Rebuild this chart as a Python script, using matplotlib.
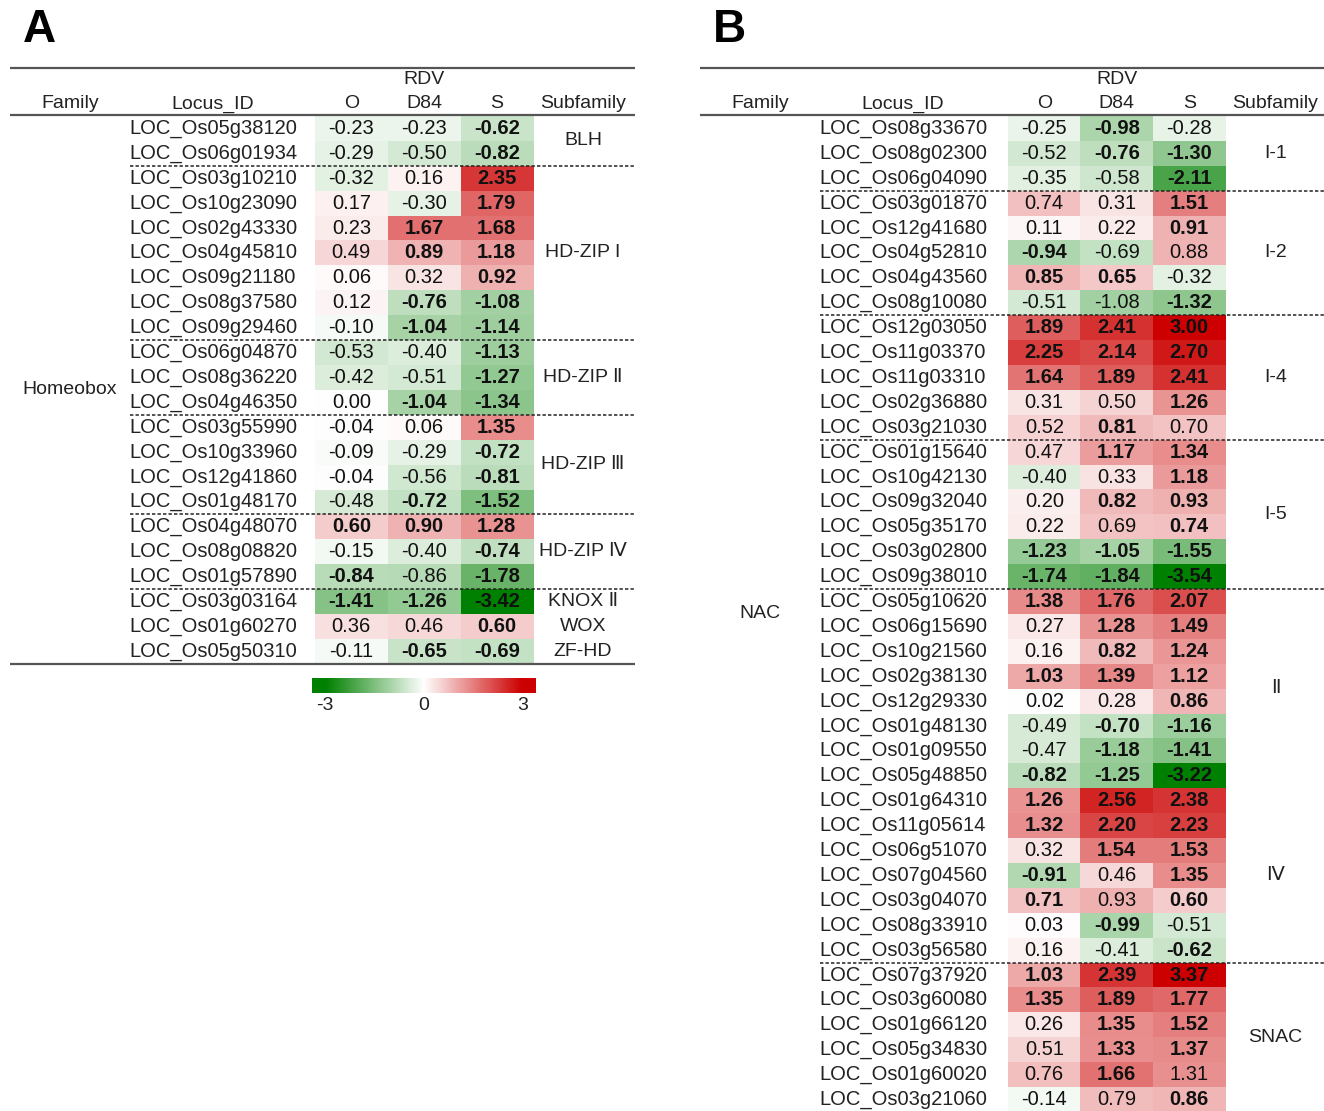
import numpy as np
import matplotlib
matplotlib.use("Agg")
import matplotlib.pyplot as plt
from matplotlib import font_manager
from matplotlib.colors import LinearSegmentedColormap, Normalize

# ---- data, panel A (Homeobox) ----
locus_a = ["LOC_Os05g38120", "LOC_Os06g01934", "LOC_Os03g10210", "LOC_Os10g23090",
           "LOC_Os02g43330", "LOC_Os04g45810", "LOC_Os09g21180", "LOC_Os08g37580",
           "LOC_Os09g29460", "LOC_Os06g04870", "LOC_Os08g36220", "LOC_Os04g46350",
           "LOC_Os03g55990", "LOC_Os10g33960", "LOC_Os12g41860", "LOC_Os01g48170",
           "LOC_Os04g48070", "LOC_Os08g08820", "LOC_Os01g57890", "LOC_Os03g03164",
           "LOC_Os01g60270", "LOC_Os05g50310"]
o_a = [-0.23, -0.29, -0.32, 0.17, 0.23, 0.49, 0.06, 0.12, -0.10, -0.53, -0.42, 0.00,
       -0.04, -0.09, -0.04, -0.48, 0.60, -0.15, -0.84, -1.41, 0.36, -0.11]
d84_a = [-0.23, -0.50, 0.16, -0.30, 1.67, 0.89, 0.32, -0.76, -1.04, -0.40, -0.51, -1.04,
         0.06, -0.29, -0.56, -0.72, 0.90, -0.40, -0.86, -1.26, 0.46, -0.65]
s_a = [-0.62, -0.82, 2.35, 1.79, 1.68, 1.18, 0.92, -1.08, -1.14, -1.13, -1.27, -1.34,
       1.35, -0.72, -0.81, -1.52, 1.28, -0.74, -1.78, -3.42, 0.60, -0.69]
# bold flags for (O, D84, S)
bold_a = ["001", "001", "001", "001", "011", "011", "001", "011", "011", "001", "001", "011",
          "001", "001", "001", "011", "111", "001", "101", "111", "001", "011"]
sub_a = ["BLH", "HD-ZIP I", "HD-ZIP Ⅱ", "HD-ZIP Ⅲ", "HD-ZIP Ⅳ", "KNOX Ⅱ", "WOX", "ZF-HD"]
sub_a_n = [2, 7, 3, 4, 3, 1, 1, 1]
sub_a_dash = [True, True, True, True, True, False, False, False]

# ---- data, panel B (NAC) ----
locus_b = ["LOC_Os08g33670", "LOC_Os08g02300", "LOC_Os06g04090",
           "LOC_Os03g01870", "LOC_Os12g41680", "LOC_Os04g52810", "LOC_Os04g43560", "LOC_Os08g10080",
           "LOC_Os12g03050", "LOC_Os11g03370", "LOC_Os11g03310", "LOC_Os02g36880", "LOC_Os03g21030",
           "LOC_Os01g15640", "LOC_Os10g42130", "LOC_Os09g32040", "LOC_Os05g35170", "LOC_Os03g02800",
           "LOC_Os09g38010",
           "LOC_Os05g10620", "LOC_Os06g15690", "LOC_Os10g21560", "LOC_Os02g38130", "LOC_Os12g29330",
           "LOC_Os01g48130", "LOC_Os01g09550", "LOC_Os05g48850",
           "LOC_Os01g64310", "LOC_Os11g05614", "LOC_Os06g51070", "LOC_Os07g04560", "LOC_Os03g04070",
           "LOC_Os08g33910", "LOC_Os03g56580",
           "LOC_Os07g37920", "LOC_Os03g60080", "LOC_Os01g66120", "LOC_Os05g34830", "LOC_Os01g60020",
           "LOC_Os03g21060"]
o_b = [-0.25, -0.52, -0.35,
       0.74, 0.11, -0.94, 0.85, -0.51,
       1.89, 2.25, 1.64, 0.31, 0.52,
       0.47, -0.40, 0.20, 0.22, -1.23, -1.74,
       1.38, 0.27, 0.16, 1.03, 0.02, -0.49, -0.47, -0.82,
       1.26, 1.32, 0.32, -0.91, 0.71, 0.03, 0.16,
       1.03, 1.35, 0.26, 0.51, 0.76, -0.14]
d84_b = [-0.98, -0.76, -0.58,
         0.31, 0.22, -0.69, 0.65, -1.08,
         2.41, 2.14, 1.89, 0.50, 0.81,
         1.17, 0.33, 0.82, 0.69, -1.05, -1.84,
         1.76, 1.28, 0.82, 1.39, 0.28, -0.70, -1.18, -1.25,
         2.56, 2.20, 1.54, 0.46, 0.93, -0.99, -0.41,
         2.39, 1.89, 1.35, 1.33, 1.66, 0.79]
s_b = [-0.28, -1.30, -2.11,
       1.51, 0.91, 0.88, -0.32, -1.32,
       3.00, 2.70, 2.41, 1.26, 0.70,
       1.34, 1.18, 0.93, 0.74, -1.55, -3.54,
       2.07, 1.49, 1.24, 1.12, 0.86, -1.16, -1.41, -3.22,
       2.38, 2.23, 1.53, 1.35, 0.60, -0.51, -0.62,
       3.37, 1.77, 1.52, 1.37, 1.31, 0.86]
bold_b = ["010", "011", "001",
          "001", "001", "100", "110", "001",
          "111", "111", "111", "001", "010",
          "011", "001", "011", "001", "111", "111",
          "111", "011", "011", "111", "001", "011", "011", "111",
          "111", "111", "011", "101", "101", "010", "001",
          "111", "111", "011", "011", "010", "001"]
sub_b = ["I-1", "I-2", "I-4", "I-5", "Ⅱ", "Ⅳ", "SNAC"]
sub_b_n = [3, 5, 5, 6, 8, 7, 6]
sub_b_dash = [True, True, True, True, False, True, False]

conditions = ["O", "D84", "S"]

names = {f.name for f in font_manager.fontManager.ttflist}
NARROW = "Liberation Sans Narrow" if "Liberation Sans Narrow" in names else "Liberation Sans"
FAM = [NARROW, "DejaVu Sans"]
plt.rcParams["font.family"] = FAM

cmap = LinearSegmentedColormap.from_list("gwr", ["#008000", "#ffffff", "#cc0000"])
norm = Normalize(vmin=-3, vmax=3)

W, H = 1324, 1111
fig = plt.figure(figsize=(W / 100, H / 100), dpi=100)
ax = fig.add_axes([0, 0, 1, 1])
ax.set_xlim(0, W)
ax.set_ylim(H, 0)
ax.axis("off")

RH = 24.9
Y0 = 116
LINE_C = "#555555"


def draw_panel(x0, family, locus, o, d84, s, bold, subs, sub_n, sub_dash,
               x_right, cell_x0, cell_w, bottom_line):
    n = len(locus)
    vals = np.array([o, d84, s]).T
    y_end = Y0 + n * RH
    ax.imshow(vals, cmap=cmap, norm=norm, aspect="auto", interpolation="nearest",
              extent=(cell_x0, cell_x0 + 3 * cell_w, y_end, Y0), zorder=1)

    # header
    ax.plot([x0, x_right], [68, 68], color=LINE_C, lw=1.6, solid_capstyle="butt", zorder=3)
    ax.plot([x0, x_right], [Y0 - 1, Y0 - 1], color=LINE_C, lw=1.6, solid_capstyle="butt", zorder=3)
    if bottom_line:
        ax.plot([x0, x_right], [y_end, y_end], color=LINE_C, lw=1.6, solid_capstyle="butt", zorder=3)
    hy = 104
    fam_x = x0 + 60
    loc_x = x0 + 203
    sub_x = cell_x0 + 3 * cell_w + 50
    hk = dict(fontsize=14, family=FAM, color="#222222", va="center", ha="center")
    ax.text(fam_x, hy, "Family", **hk)
    ax.text(loc_x, hy, "Locus_ID", **hk)
    for j, c in enumerate(conditions):
        ax.text(cell_x0 + (j + 0.5) * cell_w, hy, c, **hk)
    ax.text(cell_x0 + 1.5 * cell_w, 80, "RDV", **hk)
    ax.text(sub_x, hy, "Subfamily", **hk)

    # family label
    ax.text(fam_x, (Y0 + y_end) / 2, family, fontsize=14, family=FAM,
            color="#222222", ha="center", va="center")

    # rows
    for i in range(n):
        yc = Y0 + (i + 0.5) * RH
        ax.text(loc_x, yc, locus[i], fontsize=14.5, family=FAM, color="#222222",
                ha="center", va="center")
        for j in range(3):
            b = bold[i][j] == "1"
            ax.text(cell_x0 + (j + 0.5) * cell_w, yc, f"{vals[i, j]:.2f}", fontsize=14.5,
                    family=FAM, fontweight="bold" if b else "normal",
                    color="#111111", ha="center", va="center", zorder=4)

    # subfamilies
    start = 0
    for name, k, dash in zip(subs, sub_n, sub_dash):
        yc = Y0 + (start + k / 2) * RH
        ax.text(sub_x, yc, name, fontsize=14, family=FAM, color="#222222",
                ha="center", va="center")
        start += k
        if dash:
            yl = Y0 + start * RH
            ax.plot([x0 + 120, x_right], [yl, yl], color="#222222", lw=1.1,
                    ls=(0, (2.2, 1.4)), zorder=3)


draw_panel(10, "Homeobox", locus_a, o_a, d84_a, s_a, bold_a, sub_a, sub_a_n, sub_a_dash,
           635, 315, 72.7, True)
draw_panel(700, "NAC", locus_b, o_b, d84_b, s_b, bold_b, sub_b, sub_b_n, sub_b_dash,
           1324, 1008, 72.5, False)

ax.text(23, 30, "A", fontsize=33, fontweight="bold", family=FAM, ha="left", va="center")
ax.text(713, 30, "B", fontsize=33, fontweight="bold", family=FAM, ha="left", va="center")

# colour key
cax = fig.add_axes([312 / W, 1 - 693 / H, 224 / W, 15 / H])
grad = np.linspace(-3.4, 3.4, 300)[None, :]
cax.imshow(grad, cmap=cmap, norm=norm, aspect="auto", extent=(-3.4, 3.4, 0, 1))
cax.set_xlim(-3.4, 3.4)
cax.set_yticks([])
cax.set_xticks([-3, 0, 3])
cax.set_xticklabels(["-3", "0", "3"], fontsize=14, family=FAM, color="#222222")
cax.tick_params(axis="x", length=0, pad=3)
for sp in cax.spines.values():
    sp.set_visible(False)

fig.savefig("out.png", dpi=100)
